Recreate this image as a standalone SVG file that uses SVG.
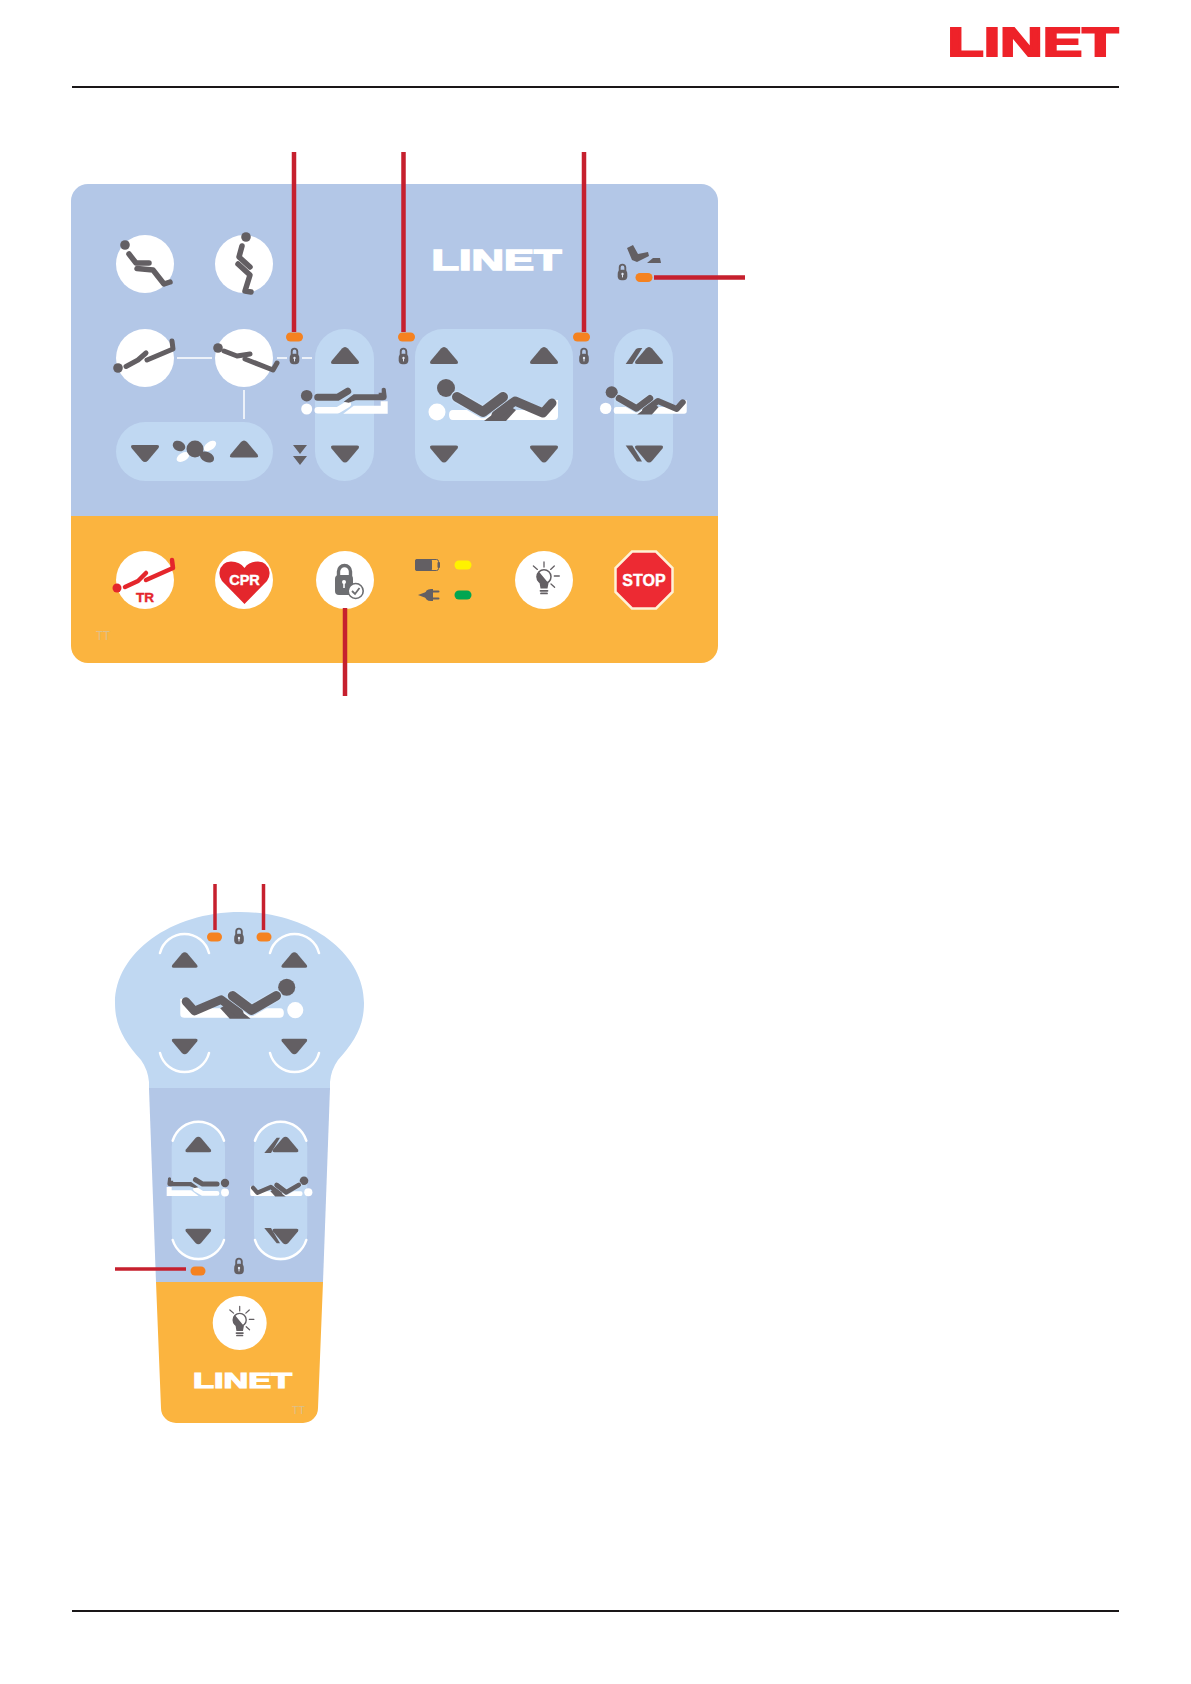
<svg xmlns="http://www.w3.org/2000/svg" width="1191" height="1684" viewBox="0 0 1191 1684">
<style>
.g{fill:#635f63}
.sg{fill:none;stroke:#635f63;stroke-linecap:round;stroke-linejoin:round}
.sr{fill:none;stroke:#e4262c;stroke-linecap:round;stroke-linejoin:round}
.sw{fill:none;stroke:#fff;stroke-linecap:round;stroke-linejoin:round}
.pill{fill:#c0d8f2}
.led{fill:#f58220}
.lead{stroke:#c6202e;fill:none}
.sans{font-family:"Liberation Sans",Arial,sans-serif;font-weight:700}
.tt{font-family:"Liberation Sans",Arial,sans-serif;fill:#dcc08c}
.arc{fill:none;stroke:#fff;stroke-width:2.5;stroke-linecap:round}
.line{stroke:#fff;stroke-width:1.5}
</style>
<defs>
<path id="up" class="g" d="M0 -9 Q1.5 -9 3 -7.5 L13.5 5 Q15 8 12 8 H-12 Q-15 8 -13.5 5 L-3 -7.5 Q-1.5 -9 0 -9Z"/>
<path id="dn" class="g" d="M0 9 Q1.5 9 3 7.5 L13.5 -5 Q15 -8 12 -8 H-12 Q-15 -8 -13.5 -5 L-3 7.5 Q-1.5 9 0 9Z"/>
<g id="lock">
<path d="M-2.8 -1 V-4.6 A2.8 2.8 0 0 1 2.8 -4.6 V-1" fill="none" stroke="#635f63" stroke-width="1.9"/>
<rect x="-4.8" y="-2.2" width="9.6" height="10.4" rx="4" class="g"/>
<circle cx="0" cy="2" r="1.2" fill="#dfe6f3"/><path d="M0 2V5.4" stroke="#dfe6f3" stroke-width="1"/>
</g>
<g id="hilo">
<circle cx="-9" cy="24" r="8.5" fill="#fff"/>
<path d="M7 22 H92 L106 12 H112 V28 Q112 32 108 32 H7 Q3 32 3 27 Q3 22 7 22Z" fill="#fff"/>
<circle cx="0" cy="0" r="9" class="g"/>
<path d="M11 9 L37 24 L57 9" fill="none" stroke="#c9def5" stroke-width="12.5" stroke-linecap="round" stroke-linejoin="round"/>
<path d="M11 9 L37 24 L57 9" class="sg" stroke-width="10"/>
<path d="M38 33 L60 33 L70 22 L60 16Z" class="g"/>
<path d="M50 27 L69 13 L97 25 L106 15" class="sg" stroke-width="9"/>
</g>
<g id="flat">
<circle cx="0" cy="13.3" r="5.5" fill="#fff"/>
<path d="M11 14.5 H31 L41 8.5" class="sw" stroke-width="6.5"/>
<path d="M36.5 18 L47 10 H74 V5.5 H81 V18Z" fill="#fff"/>
<circle cx="0" cy="0" r="5.8" class="g"/>
<path d="M11 1.5 H31 L41 -4.5" class="sg" stroke-width="7"/>
<path d="M37 6 L47 -1.5 H72 V-3 H75 V-7 Q77 -9 79 -7 L80 1 Q80 4.5 76 4.5 H49 L42 7Z" class="g"/>
</g>
<g id="bulb">
<circle r="29" fill="#fff"/>
<circle cx="0" cy="-3.3" r="7" fill="#fff" stroke="#635f63" stroke-width="1.5"/>
<path d="M-5.2 -8.6 A7.6 7.6 0 0 0 -4.5 2.5 L-3.5 8.5 H3.5 L4.5 3.2Z" class="g"/>
<path d="M-3.5 10.8H3.5M-3 13.4H3" class="sg" stroke-width="1.8"/>
<path d="M0 -18V-13M-10.6 -14L-6.6 -10.6M10.3 -14L6.6 -10.6M10.3 -4H15.3M7 4L10.6 7.3" class="sg" stroke-width="1.3"/>
</g>
</defs>
<rect width="1191" height="1684" fill="#fff"/>
<g id="header">
<path d="M72 87H1119" stroke="#1a1718" stroke-width="2"/>
<text class="sans" x="947.5" y="55.5" font-size="41" fill="#ee2229" stroke="#ee2229" stroke-width="2" textLength="171" lengthAdjust="spacingAndGlyphs">LINET</text>
</g>
<path id="footer" d="M72 1611H1119" stroke="#1a1718" stroke-width="2"/>

<g id="panel">
<path d="M71 516V201A17 17 0 0 1 88 184H701A17 17 0 0 1 718 201V516Z" fill="#b3c7e7"/>
<path d="M71 516H718V646A17 17 0 0 1 701 663H88A17 17 0 0 1 71 646Z" fill="#fbb43f"/>
<text class="sans" x="431.5" y="269.5" font-size="30" fill="#fff" stroke="#fff" stroke-width="1.5" textLength="130" lengthAdjust="spacingAndGlyphs">LINET</text>
<text class="tt" x="96" y="640" font-size="12" textLength="14" lengthAdjust="spacingAndGlyphs">TT</text>
<path class="line" d="M177 358H212M277 358H287M302 358H312M244 390V419"/>
</g>

<g id="btn-chair"><circle cx="145" cy="264" r="29" fill="#fff"/><circle cx="125" cy="245" r="4.8" class="g"/>
<path class="sg" stroke-width="5.5" d="M129 254L136 263H149"/><path class="sg" stroke-width="5.5" d="M137 268.5L153 270L164 284L170 282"/></g>
<g id="btn-stand"><circle cx="244" cy="264" r="29" fill="#fff"/><circle cx="246" cy="237" r="4.8" class="g"/>
<path class="sg" stroke-width="5.5" d="M242 246L239 257L250 267"/><path class="sg" stroke-width="5.5" d="M238 264L250 275L245 291L251 292"/></g>
<g id="btn-trend"><circle cx="145" cy="358" r="29" fill="#fff"/><circle cx="118" cy="368" r="4.8" class="g"/>
<path class="sg" stroke-width="5" d="M126 366.5L138 360L146 353"/><path class="sg" stroke-width="5" d="M147 360L173 349L172 341"/></g>
<g id="btn-reverse"><circle cx="244" cy="358" r="29" fill="#fff"/><circle cx="218" cy="348" r="4.8" class="g"/>
<path class="sg" stroke-width="5" d="M224 351L237 356L250 354"/><path class="sg" stroke-width="5" d="M245 359L273 370L277 363"/></g>

<g id="btn-tilt">
<rect x="116" y="422" width="157" height="59" rx="29.5" class="pill"/>
<use href="#dn" x="145" y="453"/><use href="#up" x="244" y="449.5"/>
<ellipse cx="210" cy="446" rx="7" ry="4" fill="#fff" transform="rotate(-35 210 446)"/>
<ellipse cx="183" cy="457" rx="7" ry="4" fill="#fff" transform="rotate(-30 183 457)"/>
<ellipse cx="179" cy="446" rx="6.5" ry="5" class="g" transform="rotate(25 179 446)"/>
<ellipse cx="207" cy="457" rx="7.5" ry="5" class="g" transform="rotate(25 207 457)"/>
<circle cx="195" cy="449" r="8.5" class="g"/>
</g>

<g id="btn-height">
<rect x="315" y="329" width="59" height="152" rx="29.5" class="pill"/>
<use href="#up" x="345" y="356"/><use href="#dn" x="345" y="453.5"/>
<use href="#flat" transform="translate(306.7 395.7)"/>
<path class="g" d="M293 445H307L300 454Z M293 456H307L300 465Z"/>
</g>
<g id="btn-backrest-legrest">
<rect x="415" y="329" width="158" height="152" rx="28" class="pill"/>
<use href="#up" x="444" y="356"/><use href="#up" x="544" y="356"/>
<use href="#dn" x="444" y="453.5"/><use href="#dn" x="544" y="453.5"/>
<use href="#hilo" transform="translate(446 388)"/>
</g>
<g id="btn-thigh">
<rect x="614" y="329" width="59" height="152" rx="29.5" class="pill"/>
<use href="#up" x="649" y="356"/><path class="g" d="M625.7 364L636 349Q637.5 348 639 348H642.3L632.3 364Z"/>
<use href="#dn" x="649" y="453.5"/><path class="g" d="M625.7 445.5H632.3L642 461.5H637Z"/>
<use href="#hilo" transform="translate(611.7 392.3) scale(.67)"/>
</g>
<g id="feet">
<path class="g" d="M627 248L633 245L638 254L648 252L649 256L637 262L632 260Z"/>
<path class="g" d="M647 263L653 258H660L661 263Z"/>
<use href="#lock" x="622.5" y="272"/>
</g>
<use id="lock-1" href="#lock" x="294.5" y="356"/>
<use id="lock-2" href="#lock" x="403.5" y="356"/>
<use id="lock-3" href="#lock" x="584" y="356"/>
<g id="leds">
<rect x="286" y="332.5" width="17" height="9" rx="4.5" class="led"/>
<rect x="398" y="332.5" width="17" height="9" rx="4.5" class="led"/>
<rect x="573" y="332.5" width="17" height="9" rx="4.5" class="led"/>
<rect x="635.5" y="273" width="17" height="9" rx="4.5" class="led"/>
<rect x="454.5" y="560.5" width="17" height="9" rx="4.5" fill="#fff200"/>
<rect x="454.5" y="590.5" width="17" height="9" rx="4.5" fill="#00a651"/>
</g>

<g id="btn-tr"><circle cx="145" cy="580" r="29" fill="#fff"/><circle cx="117" cy="588" r="4.5" fill="#e4262c"/>
<path class="sr" stroke-width="4.5" d="M125 587L138 581L146 573"/><path class="sr" stroke-width="4.5" d="M146 580L173 568L172 560"/>
<text class="sans" x="145" y="602" font-size="13.5" fill="#e4262c" stroke="#e4262c" stroke-width=".4" text-anchor="middle">TR</text></g>
<g id="btn-cpr"><circle cx="244" cy="580" r="29" fill="#fff"/>
<path d="M244.5 604L222 581Q219 577 219.5 572Q221 562 231 561.5Q240 561.5 244.5 568Q249 561.5 258 561.5Q268 562 269.5 572Q270 577 267 581Z" fill="#e4262c"/>
<text class="sans" x="244.5" y="585" font-size="14.5" fill="#fff" stroke="#fff" stroke-width=".4" text-anchor="middle">CPR</text></g>
<g id="btn-lock"><circle cx="345" cy="580" r="29" fill="#fff"/>
<path d="M338.5 578V571.5A6 6 0 0 1 350.5 571.5V578" fill="none" stroke="#6d6e71" stroke-width="3.4"/>
<rect x="335" y="575" width="18" height="20" rx="4" fill="#6d6e71"/>
<circle cx="344" cy="582" r="2" fill="#fff"/><path d="M344 582V588" stroke="#fff" stroke-width="1.6"/>
<circle cx="355.7" cy="591" r="7.5" fill="#fff" stroke="#6d6e71" stroke-width="1.6"/>
<path d="M352 591L355 594L359.5 588" fill="none" stroke="#6d6e71" stroke-width="1.8"/></g>
<g id="battery">
<rect x="415.5" y="559.5" width="23" height="11" rx="2" fill="#fbb43f" stroke="#635f63" stroke-width="1"/>
<rect x="415" y="559" width="17" height="12" rx="2" class="g"/>
<rect x="437.5" y="562" width="2.5" height="6" rx="1" class="g"/>
</g>
<g id="plug">
<path class="g" d="M418 595L426 592V598Z"/>
<path class="g" d="M433 589V601H431Q425 601 425 595Q425 589 431 589Z"/>
<path class="sg" stroke-width="2" d="M433 591.5H438.5M433 598.5H438.5"/>
</g>
<use id="btn-light" href="#bulb" transform="translate(544 580)"/>
<g id="btn-stop"><path d="M632 551.5H656L672.5 568V592L656 608.5H632L615.5 592V568Z" fill="#ed2a33" stroke="#fff1d6" stroke-width="2.5"/>
<text class="sans" x="644" y="585.5" font-size="16" fill="#fff" stroke="#fff" stroke-width=".4" text-anchor="middle">STOP</text></g>

<g id="handset">
<path d="M149 1090V1082Q148 1070 141 1060C125 1042 115 1027 115 1003C115 953 171 912 240 912C309 912 364 953 364 1003C364 1027 354 1042 338 1060Q331 1070 330 1082V1090Z" class="pill"/>
<path d="M149 1088H330L323 1282H156Z" fill="#b3c7e7"/>
<path d="M156 1282H323L318 1408A15 15 0 0 1 303 1423H176A15 15 0 0 1 161 1408Z" fill="#fbb43f"/>
<text class="sans" x="193" y="1388" font-size="22" fill="#fff" stroke="#fff" stroke-width="1.2" textLength="99" lengthAdjust="spacingAndGlyphs">LINET</text>
<text class="tt" x="292" y="1414" font-size="11" textLength="13" lengthAdjust="spacingAndGlyphs">TT</text>
</g>
<g id="hs-head">
<path class="arc" d="M160 953A25.3 25.3 0 0 1 209 953M270 953A25.3 25.3 0 0 1 319 953M160 1053A25.3 25.3 0 0 0 209 1053M270 1053A25.3 25.3 0 0 0 319 1053"/>
<use href="#up" transform="translate(184.7 960.5) scale(.92)"/><use href="#up" transform="translate(294.3 960.5) scale(.92)"/>
<use href="#dn" transform="translate(184.7 1046) scale(.92)"/><use href="#dn" transform="translate(294.3 1046) scale(.92)"/>
<use href="#hilo" transform="translate(286.7 987.3) scale(-.95 .95)"/>
<use href="#lock" x="239" y="936"/>
<rect x="207" y="932.5" width="15" height="9" rx="4.5" class="led"/>
<rect x="256.5" y="932.5" width="15" height="9" rx="4.5" class="led"/>
</g>
<g id="hs-height">
<rect x="171.7" y="1120.7" width="53.3" height="140" rx="26.6" class="pill"/>
<path class="arc" d="M172.7 1140.7A26.8 26.8 0 0 1 224 1140.7M172.7 1240A26.8 26.8 0 0 0 224 1240"/>
<use href="#up" transform="translate(198.3 1145) scale(.92)"/><use href="#dn" transform="translate(198.3 1236) scale(.92)"/>
<use href="#flat" transform="translate(225 1183) scale(-.72 .72)"/>
</g>
<g id="hs-thigh">
<rect x="254" y="1120.7" width="53.3" height="140" rx="26.6" class="pill"/>
<path class="arc" d="M255 1140.7A26.8 26.8 0 0 1 306.3 1140.7M255 1240A26.8 26.8 0 0 0 306.3 1240"/>
<use href="#up" transform="translate(285.5 1145) scale(.92)"/><path class="g" d="M264.3 1153L276.7 1137.7H280L271 1153Z"/>
<use href="#dn" transform="translate(285.5 1236) scale(.92)"/><path class="g" d="M264.3 1228H271L280 1243.3H276.7Z"/>
<use href="#hilo" transform="translate(304 1180.7) scale(-.48 .48)"/>
</g>
<use id="hs-lock" href="#lock" x="239" y="1266"/>
<rect id="hs-led" x="190.5" y="1266.5" width="15" height="9" rx="4.5" class="led"/>
<use id="hs-light" href="#bulb" transform="translate(239.7 1323) scale(.93)"/>

<g id="connectors" class="lead">
<path stroke-width="4.5" d="M294 152V332M403.5 152V332M584 152V332M654 277.5H745M345 608V696"/>
<path stroke-width="3.5" d="M215 884V930M263.5 884V930M115 1269H186"/>
</g>
</svg>
